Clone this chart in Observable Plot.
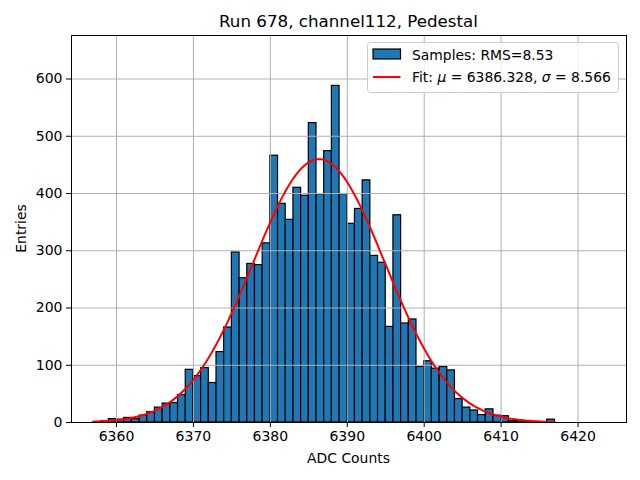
<!DOCTYPE html>
<html><head>
<meta charset="utf-8">
<script src="https://cdn.jsdelivr.net/npm/d3@7"></script>
<script src="https://cdn.jsdelivr.net/npm/@observablehq/plot@0.6"></script>
<style>
body{margin:0;background:#fff}
svg{font-family:"DejaVu Sans",sans-serif}
</style>
</head><body><div id="chart"></div>
<script>
// Histogram bins (left edges, width 1 ADC count) and entries per bin
const binStarts = [6357,6358,6359,6360,6361,6362,6363,6364,6365,6366,6367,6368,6369,6370,6371,6372,6373,6374,6375,6376,6377,6378,6379,6380,6381,6382,6383,6384,6385,6386,6387,6388,6389,6390,6391,6392,6393,6394,6395,6396,6397,6398,6399,6400,6401,6402,6403,6404,6405,6406,6407,6408,6409,6410,6411,6412,6413,6414,6415,6416];
const counts = [1,2,6,5,8,6,12,18,26,33,34,48,92,81,95,69,123,166,297,252,277,275,313,466,382,354,410,396,523,399,474,588,399,347,373,423,291,279,167,362,173,180,97,107,94,97,91,41,26,21,13,23,12,11,3,3,1,1,0,5];
const binWidth = 1;
const xTicks = [6360,6370,6380,6390,6400,6410,6420];
const yTicks = [0,100,200,300,400,500,600];
const fitMu = 6386.328, fitSigma = 8.566, fitAmp = 460;
const fitRange = [6357, 6417];
const rms = 8.53;
const titleText = "Run 678, channel112, Pedestal";

const bars = binStarts.map((x, i) => ({x1: x, x2: x + binWidth, y: counts[i]}));
const gauss = x => fitAmp * Math.exp(-0.5 * ((x - fitMu) / fitSigma) ** 2);
const fitPts = d3.range(fitRange[0], fitRange[1] + 1e-9, 0.2).map(x => ({x, y: gauss(x)}));

const W = 640, H = 480, mL = 71, mR = 14, mT = 35, mB = 58;

const chart = Plot.plot({
  width: W, height: H,
  marginLeft: mL, marginRight: mR, marginTop: mT, marginBottom: mB,
  style: {fontFamily: "DejaVu Sans, sans-serif", background: "#fff", color: "black"},
  x: {type: "linear", domain: [6354.15, 6426.3]},
  y: {domain: [0, 676]},
  marks: [
    Plot.rectY(bars, {x1: "x1", x2: "x2", y: "y", fill: "#1f77b4", stroke: "black", strokeWidth: 1.2}),
    Plot.gridX(xTicks, {stroke: "#b0b0b0", strokeOpacity: 1, strokeWidth: 1}),
    Plot.gridY(yTicks, {stroke: "#b0b0b0", strokeOpacity: 1, strokeWidth: 1}),
    Plot.line(fitPts, {x: "x", y: "y", stroke: "red", strokeWidth: 2}),
    Plot.frame({stroke: "black", strokeWidth: 1}),
    Plot.axisX(xTicks, {tickSize: 5, tickPadding: 4, fontSize: 14, label: null, strokeWidth: 1, tickFormat: d => String(d)}),
    Plot.axisY(yTicks, {tickSize: 5, tickPadding: 4, fontSize: 14, label: null, strokeWidth: 1, tickFormat: d => String(d)})
  ]
});

const svg = d3.select(chart);
const cx = (mL + (W - mR)) / 2;
svg.append("text").attr("x", cx).attr("y", 26.7).attr("text-anchor", "middle")
  .attr("font-size", 16.7).attr("fill", "black").text(titleText);
svg.append("text").attr("x", cx).attr("y", 463).attr("text-anchor", "middle")
  .attr("font-size", 13.9).attr("fill", "black").text("ADC Counts");
svg.append("text").attr("transform", `translate(26,${(mT + H - mB) / 2}) rotate(-90)`)
  .attr("text-anchor", "middle").attr("font-size", 13.9).attr("fill", "black").text("Entries");

// Legend
const lg = svg.append("g").attr("text-anchor", "start");
lg.append("rect").attr("x", 367.5).attr("y", 42.5).attr("width", 251).attr("height", 50)
  .attr("rx", 3).attr("fill", "white").attr("fill-opacity", 0.8).attr("stroke", "#cccccc").attr("stroke-width", 1);
lg.append("rect").attr("x", 373).attr("y", 49).attr("width", 27.5).attr("height", 10)
  .attr("fill", "#1f77b4").attr("stroke", "black").attr("stroke-width", 1.2);
lg.append("text").attr("x", 412).attr("y", 59.5).attr("font-size", 13.9).attr("fill", "black")
  .attr("text-anchor", "start").text(`Samples: RMS=${rms.toFixed(2)}`);
lg.append("line").attr("x1", 373).attr("x2", 400.5).attr("y1", 77).attr("y2", 77)
  .attr("stroke", "red").attr("stroke-width", 2);
const t2 = lg.append("text").attr("x", 412).attr("y", 82).attr("font-size", 13.9).attr("fill", "black")
  .attr("text-anchor", "start");
t2.append("tspan").text("Fit: ");
t2.append("tspan").attr("font-style", "italic").text("μ");
t2.append("tspan").text(` = ${fitMu.toFixed(3)}, `);
t2.append("tspan").attr("font-style", "italic").text("σ");
t2.append("tspan").text(` = ${fitSigma.toFixed(3)}`);

document.getElementById("chart").appendChild(chart);
</script>
</body></html>
